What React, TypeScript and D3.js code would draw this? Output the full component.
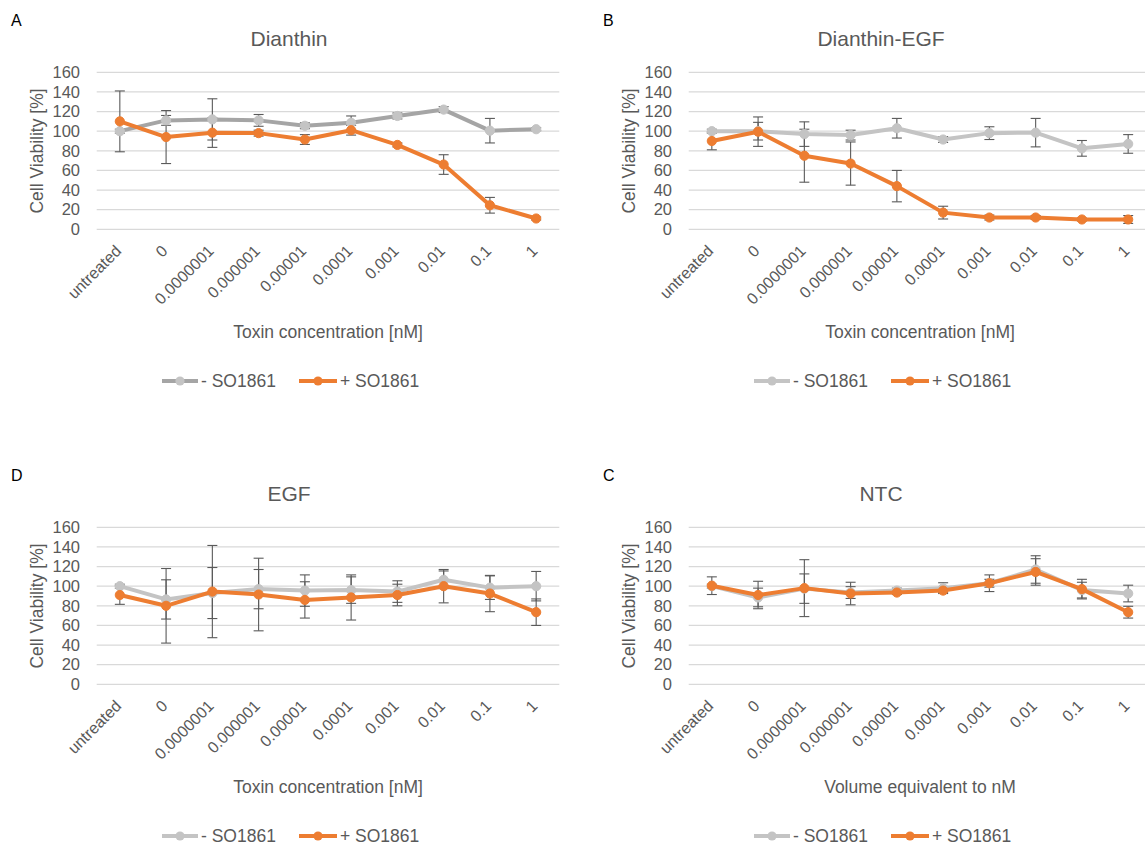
import React from "react";
import * as d3 from "d3";

const categories = ["untreated", "0", "0.0000001", "0.000001", "0.00001", "0.0001", "0.001", "0.01", "0.1", "1"];
const yTicks = [0, 20, 40, 60, 80, 100, 120, 140, 160];
const seriesNames = ["- SO1861", "+ SO1861"];

const dianthinMinus = [100, 111, 112, 111, 105.5, 108.5, 115.5, 122, 100.5, 102];
const dianthinMinusErr = [2, 5, 21, 6, 3, 7, 3, 3, 12.5, 1.5];
const dianthinPlus = [110, 94, 98.5, 98, 91.5, 101, 86, 66, 24.5, 11];
const dianthinPlusErr = [31, 27, 15, 3, 5, 5, 2, 10, 8, 1.5];

const dianthinEgfMinus = [100, 100, 97, 96, 103, 91.5, 98, 98.5, 82.5, 87];
const dianthinEgfMinusErr = [2, 9, 12.5, 5, 10, 3, 6.5, 14.5, 8, 9.5];
const dianthinEgfPlus = [90, 99.5, 75, 67, 44, 17, 12, 12, 10, 10];
const dianthinEgfPlusErr = [9, 15, 27, 22, 16, 6.5, 2.5, 2, 1.5, 4];

const egfMinus = [100, 86.5, 93, 97, 95.5, 96, 94.5, 106.5, 98.5, 100];
const egfMinusErr = [2, 20, 26, 20, 16, 13.5, 11, 9, 12, 15];
const egfPlus = [91, 80, 94.5, 91.5, 86, 88.5, 91, 100, 92.5, 73.5];
const egfPlusErr = [9.5, 38, 47, 37, 18.5, 23, 11, 17, 18.5, 13.5];

const ntcMinus = [100, 88.5, 97.5, 93.5, 95.5, 98, 103, 117, 96, 92.5];
const ntcMinusErr = [2, 9.5, 15, 6, 2.5, 5.5, 4, 14, 8, 8.5];
const ntcPlus = [100.5, 91, 98, 92.5, 93.5, 95.5, 103, 114.5, 97, 73.5];
const ntcPlusErr = [9, 14, 29, 11.5, 2, 2, 8.5, 13.5, 10, 6];

const FONT = "'Liberation Sans', Arial, sans-serif";
const TEXT = "#595959";
const ORANGE = "#ED7D31";

type PanelProps = {
  dx: number;
  dy: number;
  letter: string;
  title: string;
  xTitle: string;
  minus: number[];
  minusErr: number[];
  plus: number[];
  plusErr: number[];
  minusLine: string;
  minusMarker: string;
};

function Panel(p: PanelProps) {
  const x = d3.scaleBand().domain(categories).range([96.7, 559.3]);
  const y = d3.scaleLinear().domain([0, 160]).range([229.3, 72.3]);
  const cx = (c: string) => (x(c) as number) + x.bandwidth() / 2;
  const line = d3
    .line<number>()
    .x((_, i) => cx(categories[i]))
    .y((v) => y(v));
  const series = [
    { vals: p.minus, err: p.minusErr, stroke: p.minusLine, fill: p.minusMarker },
    { vals: p.plus, err: p.plusErr, stroke: ORANGE, fill: ORANGE },
  ];
  const [x0, x1] = x.range();
  const titleCx = 289;
  return (
    <g transform={`translate(${p.dx},${p.dy})`}>
      <text x={11} y={26} fontSize={16} fill="#000" fontFamily={FONT}>
        {p.letter}
      </text>
      <text x={titleCx} y={46} fontSize={21} fill={TEXT} textAnchor="middle" fontFamily={FONT}>
        {p.title}
      </text>
      {yTicks.map((t) => (
        <g key={t}>
          <line x1={x0} x2={x1} y1={y(t)} y2={y(t)} stroke="#D9D9D9" strokeWidth={1.3} />
          <text x={80} y={y(t)} dy="0.35em" fontSize={16.5} fill={TEXT} textAnchor="end" fontFamily={FONT}>
            {t}
          </text>
        </g>
      ))}
      <text
        transform={`translate(37,151) rotate(-90)`}
        fontSize={17.5}
        fill={TEXT}
        textAnchor="middle"
        dominantBaseline="central"
        fontFamily={FONT}
      >
        Cell Viability [%]
      </text>
      {categories.map((c) => (
        <text
          key={c}
          transform={`translate(${cx(c) + 2.5},252) rotate(-45)`}
          fontSize={16}
          fill={TEXT}
          textAnchor="end"
          fontFamily={FONT}
        >
          {c}
        </text>
      ))}
      <text x={(x0 + x1) / 2} y={338} fontSize={17.5} fill={TEXT} textAnchor="middle" fontFamily={FONT}>
        {p.xTitle}
      </text>
      {series.map((s, si) => (
        <g key={"e" + si}>
          {s.vals.map((v, i) => {
            const px = cx(categories[i]);
            const top = y(v + s.err[i]);
            const bot = y(v - s.err[i]);
            return (
              <g key={i} stroke="#5A5A5A" strokeWidth={1.1}>
                <line x1={px} x2={px} y1={top} y2={bot} />
                <line x1={px - 5} x2={px + 5} y1={top} y2={top} />
                <line x1={px - 5} x2={px + 5} y1={bot} y2={bot} />
              </g>
            );
          })}
        </g>
      ))}
      {series.map((s, si) => (
        <g key={"s" + si}>
          <path d={line(s.vals) || ""} fill="none" stroke={s.stroke} strokeWidth={4} strokeLinejoin="round" />
          {s.vals.map((v, i) => (
            <circle key={i} cx={cx(categories[i])} cy={y(v)} r={4.6} fill={s.fill} stroke={s.fill} strokeWidth={1} />
          ))}
        </g>
      ))}
      <g>
        <line x1={162} x2={198} y1={381} y2={381} stroke={p.minusLine} strokeWidth={4} />
        <circle cx={180} cy={381} r={4.6} fill={p.minusMarker} />
        <text x={201} y={387} fontSize={17.5} fill={TEXT} fontFamily={FONT}>
          {seriesNames[0]}
        </text>
        <line x1={299} x2={337} y1={381} y2={381} stroke={ORANGE} strokeWidth={4} />
        <circle cx={318} cy={381} r={4.6} fill={ORANGE} />
        <text x={340} y={387} fontSize={17.5} fill={TEXT} fontFamily={FONT}>
          {seriesNames[1]}
        </text>
      </g>
    </g>
  );
}

export default function App() {
  return (
    <svg
      width={1145}
      height={845}
      style={{ position: "absolute", left: 0, top: 0, background: "#fff" }}
    >
      <rect width={1145} height={845} fill="#fff" />
      <Panel
        dx={0}
        dy={0}
        letter="A"
        title="Dianthin"
        xTitle="Toxin concentration [nM]"
        minus={dianthinMinus}
        minusErr={dianthinMinusErr}
        plus={dianthinPlus}
        plusErr={dianthinPlusErr}
        minusLine="#A5A5A5"
        minusMarker="#C4C4C4"
      />
      <Panel
        dx={592}
        dy={0}
        letter="B"
        title="Dianthin-EGF"
        xTitle="Toxin concentration [nM]"
        minus={dianthinEgfMinus}
        minusErr={dianthinEgfMinusErr}
        plus={dianthinEgfPlus}
        plusErr={dianthinEgfPlusErr}
        minusLine="#C4C4C4"
        minusMarker="#C4C4C4"
      />
      <Panel
        dx={0}
        dy={455}
        letter="D"
        title="EGF"
        xTitle="Toxin concentration [nM]"
        minus={egfMinus}
        minusErr={egfMinusErr}
        plus={egfPlus}
        plusErr={egfPlusErr}
        minusLine="#C4C4C4"
        minusMarker="#C4C4C4"
      />
      <Panel
        dx={592}
        dy={455}
        letter="C"
        title="NTC"
        xTitle="Volume equivalent to nM"
        minus={ntcMinus}
        minusErr={ntcMinusErr}
        plus={ntcPlus}
        plusErr={ntcPlusErr}
        minusLine="#C4C4C4"
        minusMarker="#C4C4C4"
      />
    </svg>
  );
}
